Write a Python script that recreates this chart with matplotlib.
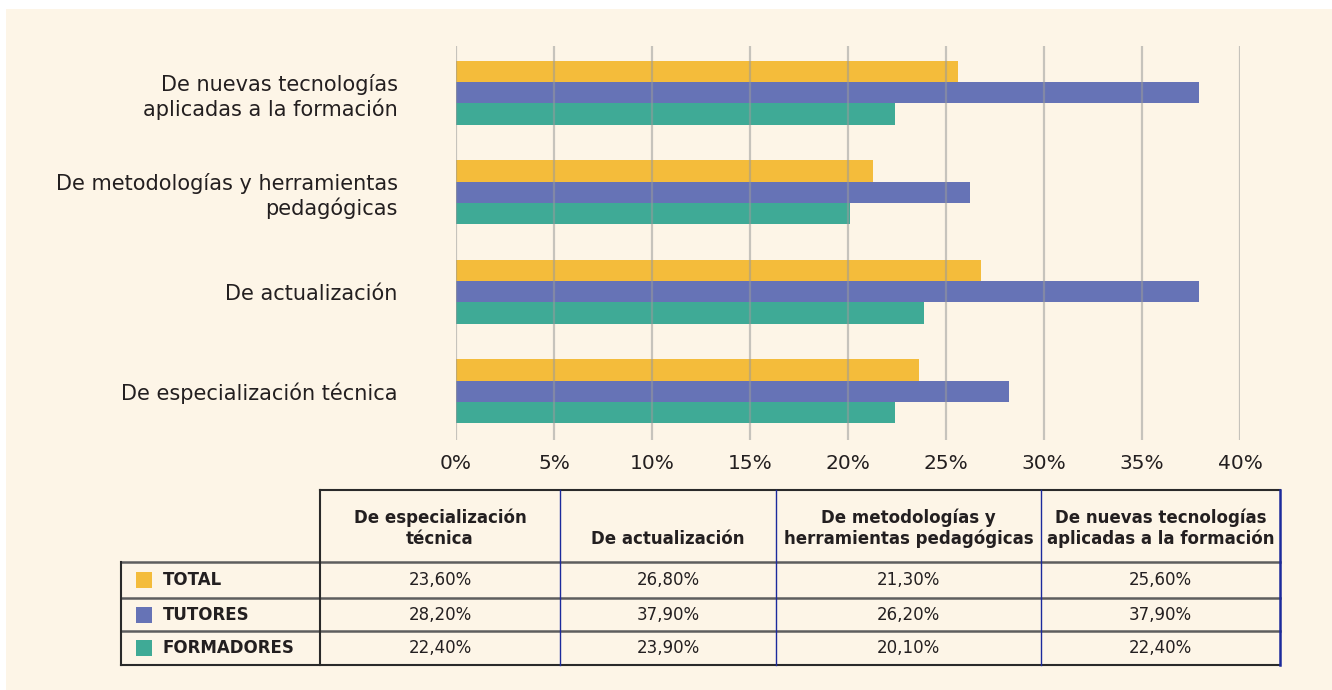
import matplotlib
matplotlib.use("Agg")
import matplotlib.pyplot as plt
from matplotlib.patches import Rectangle
import numpy as np

# ---------------- data ----------------
categories = ["De especialización técnica",
              "De actualización",
              "De metodologías y herramientas\npedagógicas",
              "De nuevas tecnologías\naplicadas a la formación"]
table_headers = ["De especialización\ntécnica",
                 "De actualización",
                 "De metodologías y\nherramientas pedagógicas",
                 "De nuevas tecnologías\naplicadas a la formación"]
series_names = ["TOTAL", "TUTORES", "FORMADORES"]
total = [23.6, 26.8, 21.3, 25.6]
tutores = [28.2, 37.9, 26.2, 37.9]
formadores = [22.4, 23.9, 20.1, 22.4]
x_ticks = [0, 5, 10, 15, 20, 25, 30, 35, 40]
x_tick_labels = ["0%", "5%", "10%", "15%", "20%", "25%", "30%", "35%", "40%"]

colors = ["#F4BC3B", "#6673B6", "#3FAA96"]
TXT = "#231f20"
CREAM = "#FDF5E7"
FONT = "DejaVu Sans"

W, H = 1332, 690
fig = plt.figure(figsize=(W / 100, H / 100), dpi=100)
fig.patch.set_facecolor("white")

# background panel (pixel coords overlay)
bg = fig.add_axes([0, 0, 1, 1], zorder=0)
bg.set_xlim(0, W)
bg.set_ylim(H, 0)
bg.axis("off")
bg.add_patch(Rectangle((6, 9), W + 10, H + 10, facecolor=CREAM, edgecolor="none",
                       clip_on=False))

# ---------------- bar chart ----------------
ax_l, ax_r, ax_t, ax_b = 456, 1240, 46, 440
ax = fig.add_axes([ax_l / W, 1 - ax_b / H, (ax_r - ax_l) / W, (ax_b - ax_t) / H], zorder=2)
ax.set_facecolor("none")
y = np.arange(len(categories))
bh = 0.213
series = [total, tutores, formadores]
offsets = [bh, 0, -bh]
for vals, off, col in zip(series, offsets, colors):
    ax.barh(y + off, vals, height=bh, color=col, zorder=2, linewidth=0)

ax.set_xlim(0, 40)
ax.set_ylim(-0.49, 3.47)
ax.set_xticks(x_ticks)
ax.set_xticklabels(x_tick_labels, fontsize=14.5, color=TXT, family=FONT)
ax.set_yticks(y)
ax.set_yticklabels(categories, fontsize=15, color=TXT, family=FONT, linespacing=1.2)
ax.tick_params(axis="both", length=0)
ax.tick_params(axis="x", pad=10)
ax.tick_params(axis="y", pad=42)
for s in ax.spines.values():
    s.set_visible(False)
for xv in x_ticks:
    ax.axvline(xv, color="#9a9a9a", lw=1.6, alpha=0.55, zorder=3)

# ---------------- table ----------------
tab = fig.add_axes([0, 0, 1, 1], zorder=3)
tab.set_xlim(0, W)
tab.set_ylim(H, 0)
tab.axis("off")
tab.set_facecolor("none")

col_edges = [121, 320, 560, 776, 1041, 1280]
row_edges = [490, 562, 598, 631, 665]
dark = "#2a2a2a"
mid = "#5e5e5e"
blue = "#1c2a9c"

# horizontal lines
tab.plot([320, 1280], [490, 490], color=dark, lw=1.5)
tab.plot([121, 1280], [562, 562], color=mid, lw=1.8)
tab.plot([121, 1280], [598, 598], color=mid, lw=1.8)
tab.plot([121, 1280], [631, 631], color=mid, lw=1.8)
tab.plot([121, 1280], [665, 665], color=dark, lw=1.5)
# verticals
tab.plot([121, 121], [562, 665], color=dark, lw=1.5)
tab.plot([320, 320], [490, 665], color=dark, lw=1.5)
tab.plot([1280, 1280], [490, 665], color=blue, lw=1.8)
for cx in col_edges[2:-1]:
    tab.plot([cx, cx], [490, 665], color=blue, lw=1.0)

# header text
for j, hdr in enumerate(table_headers):
    cx = (col_edges[j + 1] + col_edges[j + 2]) / 2
    tab.text(cx, 548, hdr, ha="center", va="bottom", fontsize=12,
             fontweight="bold", color=TXT, family=FONT, linespacing=1.2)

# rows
for i, (name, vals, col) in enumerate(zip(series_names, series, colors)):
    cy = (row_edges[i + 1] + row_edges[i + 2]) / 2
    tab.add_patch(Rectangle((136, cy - 8), 16, 16, facecolor=col, edgecolor="none"))
    tab.text(163, cy, name, ha="left", va="center", fontsize=12,
             fontweight="bold", color=TXT, family=FONT)
    for j, v in enumerate(vals):
        cx = (col_edges[j + 1] + col_edges[j + 2]) / 2
        tab.text(cx, cy, f"{v:.2f}%".replace(".", ","), ha="center", va="center",
                 fontsize=12, color=TXT, family=FONT)

fig.savefig("out.png", dpi=100, facecolor=fig.get_facecolor())
